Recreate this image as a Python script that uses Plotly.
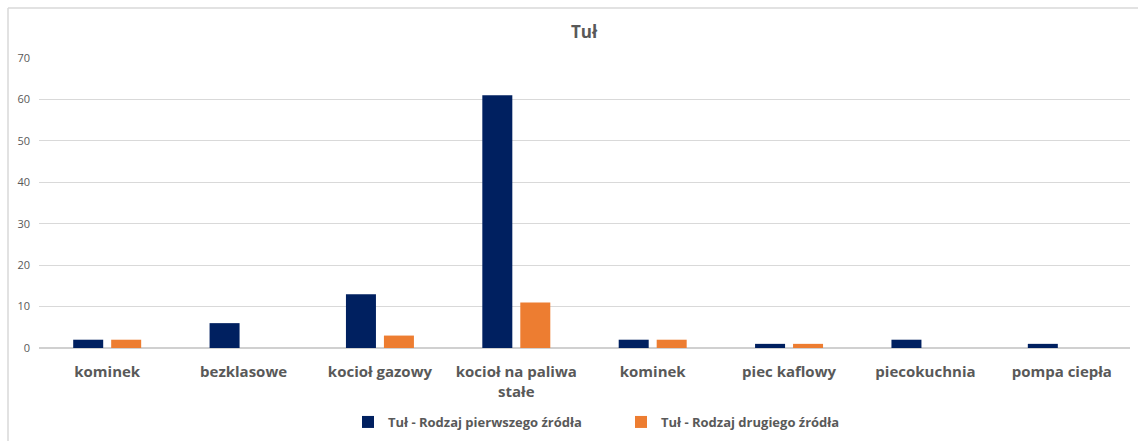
import plotly.graph_objects as go

# Heating source counts for Tuł
categories = ["kominek", "bezklasowe", "kocioł gazowy", "kocioł na paliwa<br>stałe",
              "kominek", "piec kaflowy", "piecokuchnia", "pompa ciepła"]
first_source = [2, 6, 13, 61, 2, 1, 2, 1]
second_source = [2, 0, 3, 11, 2, 1, 0, 0]
series_names = ["Tuł - Rodzaj pierwszego źródła", "Tuł - Rodzaj drugiego źródła"]
y_ticks = [0, 10, 20, 30, 40, 50, 60, 70]

positions = list(range(len(categories)))

W, H = 1138, 441
ml, mr, mt, mb = 39, 8, 58, 93
pw = W - ml - mr
ph = H - mt - mb

fig = go.Figure()
fig.add_trace(go.Bar(x=positions, y=first_source, name=f"<b>{series_names[0]}</b>",
                     marker=dict(color="#002060", line=dict(width=0))))
fig.add_trace(go.Bar(x=positions, y=second_source, name=f"<b>{series_names[1]}</b>",
                     marker=dict(color="#ED7D31", line=dict(width=0))))

text_gray = "#595959"
font_family = "Open Sans, Noto Sans, sans-serif"

# Frame: left and top edge of the chart area
px_x = lambda p: (p - ml) / pw
px_y = lambda p: (H - mb - p) / ph
fig.add_shape(type="line", xref="paper", yref="paper",
              x0=px_x(8), x1=px_x(8), y0=px_y(8), y1=px_y(H + 5),
              line=dict(color="#d9d9d9", width=1.5))
fig.add_shape(type="line", xref="paper", yref="paper",
              x0=px_x(8), x1=px_x(W + 5), y0=px_y(8), y1=px_y(8),
              line=dict(color="#d9d9d9", width=1.5))

fig.update_layout(
    width=W, height=H,
    margin=dict(l=ml, r=mr, t=mt, b=mb, autoexpand=False),
    paper_bgcolor="white", plot_bgcolor="white",
    barmode="group", bargap=0.443, bargroupgap=0.21,
    title=dict(text="<b>Tuł</b>", x=px_x(584), xanchor="center", xref="paper",
               y=1 - 32 / H, yanchor="middle",
               font=dict(family=font_family, size=17, color=text_gray)),
    xaxis=dict(tickmode="array", tickvals=positions,
               ticktext=[f"<b>{c}</b>" for c in categories],
               range=[-0.5, len(categories) - 0.5], automargin=False,
               showgrid=False, zeroline=False, showline=False, ticks="",
               ticklabelstandoff=13,
               tickfont=dict(family=font_family, size=15, color=text_gray)),
    yaxis=dict(range=[0, 70], tickvals=y_ticks, showgrid=True, automargin=False,
               gridcolor="#d9d9d9", gridwidth=1, zeroline=True,
               zerolinecolor="#d0d0d0", zerolinewidth=1.5, showline=False,
               ticks="", ticklabelstandoff=8,
               tickfont=dict(family=font_family, size=11, color=text_gray)),
    legend=dict(orientation="h", x=px_x(348), xanchor="left",
                y=px_y(422), yanchor="middle",
                font=dict(family=font_family, size=13, color=text_gray),
                itemwidth=30, entrywidth=228, entrywidthmode="pixels",
                traceorder="normal"),
    showlegend=True,
)

fig.write_html("out.html")
